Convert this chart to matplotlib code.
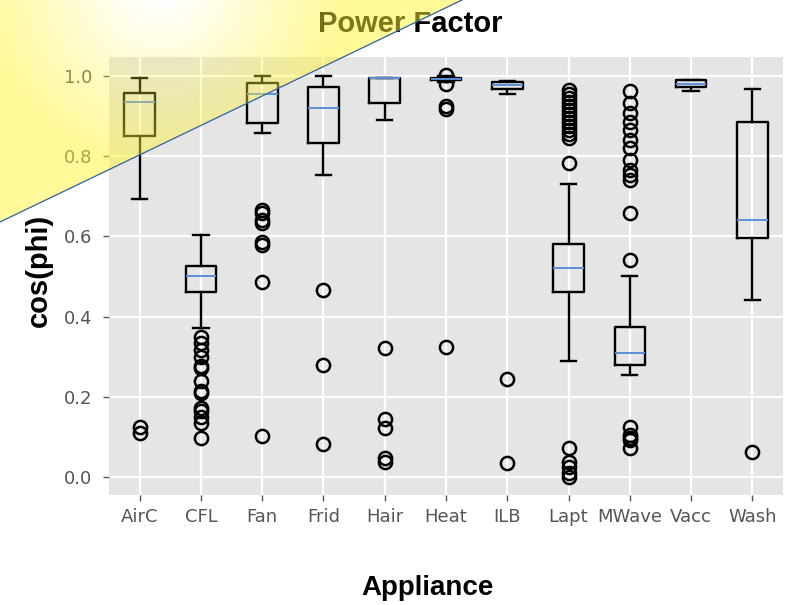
import numpy as np
import matplotlib
matplotlib.use("Agg")
import matplotlib.pyplot as plt
from matplotlib.patches import Polygon

# ---------------- data ----------------
appliances = ["AirC", "CFL", "Fan", "Frid", "Hair", "Heat", "ILB", "Lapt", "MWave", "Vacc", "Wash"]
q1_vals     = [0.849, 0.460, 0.883, 0.833, 0.933, 0.989, 0.968, 0.460, 0.279, 0.972, 0.595]
median_vals = [0.935, 0.501, 0.955, 0.919, 0.994, 0.992, 0.978, 0.520, 0.308, 0.980, 0.641]
q3_vals     = [0.958, 0.526, 0.983, 0.973, 0.994, 0.995, 0.984, 0.581, 0.375, 0.990, 0.884]
whislo_vals = [0.692, 0.371, 0.858, 0.753, 0.889, 0.985, 0.955, 0.288, 0.254, 0.963, 0.441]
whishi_vals = [0.994, 0.602, 1.000, 1.000, 0.995, 0.999, 0.988, 0.731, 0.500, 0.990, 0.968]
fliers_airc  = [0.125, 0.109]
fliers_cfl   = [0.350, 0.333, 0.317, 0.300, 0.277, 0.272, 0.238, 0.215, 0.210,
                0.171, 0.165, 0.150, 0.134, 0.097]
fliers_fan   = [0.666, 0.658, 0.641, 0.633, 0.587, 0.579, 0.485, 0.102]
fliers_frid  = [0.465, 0.279, 0.082]
fliers_hair  = [0.321, 0.144, 0.121, 0.047, 0.038]
fliers_heat  = [1.002, 0.980, 0.924, 0.918, 0.325]
fliers_ilb   = [0.244, 0.036]
fliers_lapt  = [0.965, 0.955, 0.945, 0.935, 0.925, 0.915, 0.905, 0.895, 0.885,
                0.875, 0.865, 0.855, 0.845, 0.782, 0.073, 0.038, 0.024, 0.009, 0.000]
fliers_mwave = [0.961, 0.932, 0.907, 0.886, 0.865, 0.840, 0.820, 0.791, 0.766,
                0.753, 0.740, 0.658, 0.541, 0.125, 0.105, 0.097, 0.093, 0.072]
fliers_vacc  = []
fliers_wash  = [0.063]
fliers_all = [fliers_airc, fliers_cfl, fliers_fan, fliers_frid, fliers_hair, fliers_heat,
              fliers_ilb, fliers_lapt, fliers_mwave, fliers_vacc, fliers_wash]
yticks = [0.0, 0.2, 0.4, 0.6, 0.8, 1.0]

# ---------------- figure ----------------
plt.style.use("ggplot")
W, H = 795, 605
fig = plt.figure(figsize=(W / 100, H / 100), dpi=100)
fig.patch.set_facecolor("white")
ax = fig.add_axes([109 / W, 1 - 495 / H, (783 - 109) / W, (495 - 57) / H])
ax.set_facecolor("#E5E5E5")
for s in ax.spines.values():
    s.set_visible(False)

stats = []
for i, name in enumerate(appliances):
    stats.append(dict(label=name, q1=q1_vals[i], med=median_vals[i], q3=q3_vals[i],
                      whislo=whislo_vals[i], whishi=whishi_vals[i], fliers=fliers_all[i]))

ax.bxp(stats, positions=range(1, len(appliances) + 1), widths=0.5,
       boxprops=dict(color="black", linewidth=1.7),
       whiskerprops=dict(color="black", linewidth=1.7),
       capprops=dict(color="black", linewidth=1.7),
       medianprops=dict(color="#5B8FD6", linewidth=1.4),
       flierprops=dict(marker="o", markerfacecolor="none", markeredgecolor="black",
                       markersize=9.5, markeredgewidth=1.8, linestyle="none"))

ax.set_xlim(0.5, len(appliances) + 0.5)
ax.set_ylim(-0.045, 1.047)
ax.set_yticks(yticks)
ax.set_yticklabels([f"{v:.1f}" for v in yticks])
ax.grid(True, color="white", linewidth=1.6)
ax.set_axisbelow(True)
ax.tick_params(axis="both", colors="#555555", labelsize=13, length=4, width=1,
               direction="out")
ax.tick_params(axis="y", pad=8)
ax.tick_params(axis="x", pad=5)
for lab in ax.get_xticklabels() + ax.get_yticklabels():
    lab.set_family("DejaVu Sans")
    lab.set_color("#555555")

fig.text(410 / W, 1 - 32 / H, "Power Factor", ha="center", va="baseline",
         fontsize=21, fontweight="bold", family="Liberation Sans", color="black")
fig.text(39 / W, 1 - 270 / H, "cos(phi)", ha="center", va="center", rotation=90,
         fontsize=21, fontweight="bold", family="Liberation Sans", color="black")
fig.text(427 / W, 1 - 595 / H, "Appliance", ha="center", va="baseline",
         fontsize=20, fontweight="bold", family="Liberation Sans", color="black")

# ---------------- yellow highlighter overlay (top-left) ----------------
ov = fig.add_axes([0, 0, 1, 1], zorder=10)
ov.axis("off")
ov.patch.set_alpha(0)
yy, xx = np.mgrid[0:H, 0:W]
d = np.hypot(xx - 160, yy + 20)
alpha = np.clip((d - 20) / 320.0, 0, 0.5)
img = np.zeros((H, W, 4))
img[..., 0] = 1.0
img[..., 1] = 0.96
img[..., 2] = 0.2
img[..., 3] = alpha
tri = Polygon([[0, 0], [462, 0], [0, 222]], closed=True, transform=ov.transData,
              facecolor="none", edgecolor="none")
ov.add_patch(tri)
im = ov.imshow(img, extent=(0, W, H, 0), interpolation="bilinear", zorder=1)
im.set_clip_path(tri)
ov.plot([0, 462], [222, 0], color="#2F5FB0", linewidth=0.9, zorder=2)
ov.set_xlim(0, W)
ov.set_ylim(H, 0)

fig.savefig("out.png", dpi=100, facecolor="white")
